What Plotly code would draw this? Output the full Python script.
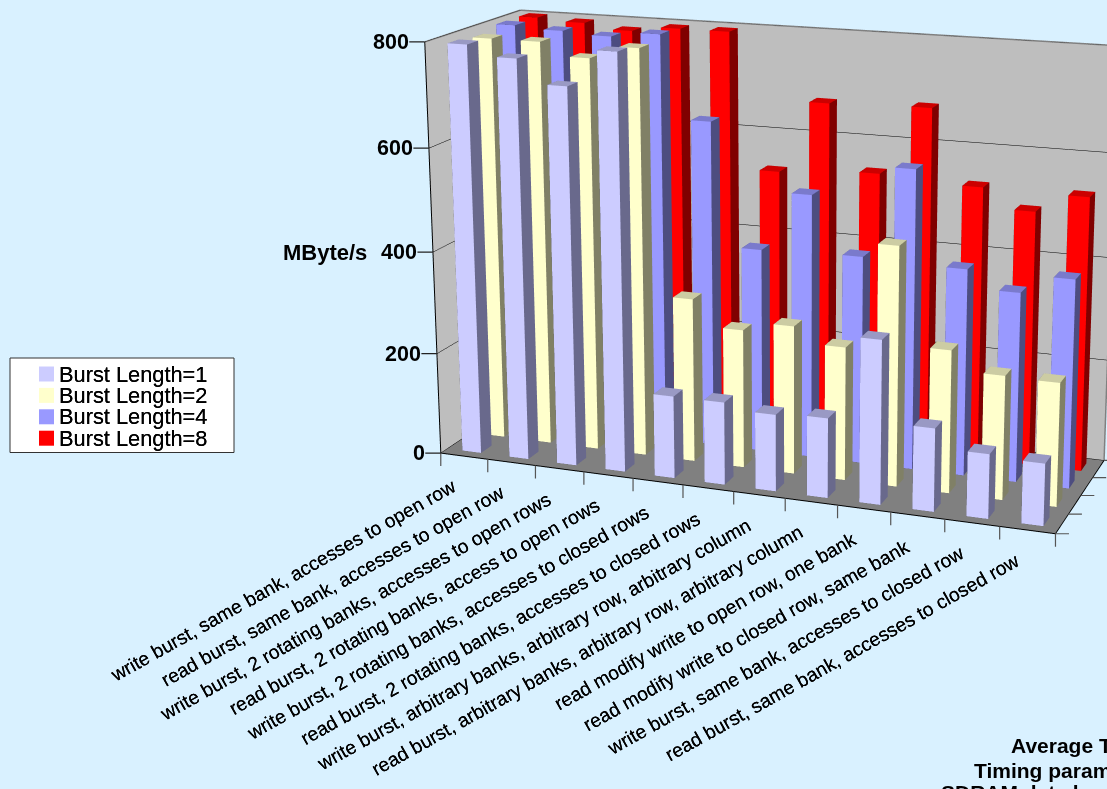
import plotly.graph_objects as go

categories = [
    "write burst, same bank, accesses to open row",
    "read burst, same bank, accesses to open row",
    "write burst, 2 rotating banks, accesses to open rows",
    "read burst, 2 rotating banks, access to open rows",
    "write burst, 2 rotating banks, accesses to closed rows",
    "read burst, 2 rotating banks, accesses to closed rows",
    "write burst, arbitrary banks, arbitrary row, arbitrary column",
    "read burst, arbitrary banks, arbitrary row, arbitrary column",
    "read modify write to open row, one bank",
    "read modify write to closed row, same bank",
    "write burst, same bank, accesses to closed row",
    "read burst, same bank, accesses to closed row",
]
burst_1 = [795, 775, 730, 800, 160, 160, 148, 153, 312, 158, 122, 117]
burst_2 = [790, 790, 765, 790, 320, 270, 288, 258, 460, 274, 237, 235]
burst_4 = [800, 795, 790, 800, 640, 400, 515, 405, 580, 400, 365, 400]
burst_8 = [800, 795, 785, 795, 795, 530, 670, 542, 675, 532, 494, 530]
series_names = ["Burst Length=1", "Burst Length=2", "Burst Length=4", "Burst Length=8"]
series_values = [burst_1, burst_2, burst_4, burst_8]
z_ticks = [0, 200, 400, 600, 800]
front_colors = ["#CCCCFF", "#FFFFCC", "#9999FF", "#FF0000"]
top_colors = ["#9999C4", "#CCCCA3", "#7A7ACC", "#CC0000"]
side_colors = ["#69698C", "#808066", "#4D4D80", "#800000"]

FONT = "Liberation Sans"
SHADOW = "0 0 0.4px black"
BG = "#D9F1FF"
W, H, SHIFT, LEFT = 1582, 1913, 746, 1
BAR_W, BAR_D, BAR_C = 0.40, 0.45, 0.52
X_MAX, Y_MAX, Z_MAX = len(categories), len(series_names), z_ticks[-1]


def bars_mesh(values, row, name, front, top, side):
    xs, ys, zs, ii, jj, kk, fc = [], [], [], [], [], [], []
    quads = [
        ((0, 1, 5, 4), front), ((1, 2, 6, 5), side), ((4, 5, 6, 7), top),
        ((0, 3, 7, 4), side), ((3, 2, 6, 7), side), ((0, 1, 2, 3), side),
    ]
    for c, v in enumerate(values):
        b = len(xs)
        x0, x1 = c + BAR_C - BAR_W / 2, c + BAR_C + BAR_W / 2
        y0, y1 = row + 0.5 - BAR_D / 2, row + 0.5 + BAR_D / 2
        xs += [x0, x1, x1, x0, x0, x1, x1, x0]
        ys += [y0, y0, y1, y1, y0, y0, y1, y1]
        zs += [0, 0, 0, 0, v, v, v, v]
        for (p, q, r, s), col in quads:
            ii += [b + p, b + p]
            jj += [b + q, b + r]
            kk += [b + r, b + s]
            fc += [col, col]
    return go.Mesh3d(
        x=xs, y=ys, z=zs, i=ii, j=jj, k=kk, facecolor=fc, flatshading=True, name=name,
        lighting=dict(ambient=1, diffuse=0, specular=0, fresnel=0, roughness=1),
        hoverinfo="skip", showlegend=False,
    )


fig = go.Figure()
for r, vals in enumerate(series_values):
    fig.add_trace(bars_mesh(vals, r, series_names[r], front_colors[r], top_colors[r], side_colors[r]))

# grey outline along the top of the walls
fig.add_trace(go.Scatter3d(
    x=[0, 0, X_MAX, X_MAX], y=[0, Y_MAX, Y_MAX, Y_MAX], z=[Z_MAX, Z_MAX, Z_MAX, 0], mode="lines",
    line=dict(color="#808080", width=3), hoverinfo="skip", showlegend=False,
))


def tick(x, y, z, ax, ay, color):
    return dict(x=x, y=y, z=z, text=" ", font=dict(size=1), showarrow=True, arrowhead=0, arrowwidth=1.2,
                arrowcolor=color, ax=ax, ay=ay, standoff=0, startstandoff=0, borderpad=0)


scene_annotations = [
    dict(x=c + 0.5, y=0, z=0, text=t, showarrow=False, xanchor="right", yanchor="top",
         textangle=-29.3, xshift=-2, yshift=-17,
         font=dict(family=FONT, size=19.3, color="black", shadow=SHADOW))
    for c, t in enumerate(categories)
]
scene_annotations += [tick(c, 0, 0, 0, 14, "#555555") for c in range(X_MAX + 1)]
scene_annotations += [tick(X_MAX, r, 0, 14, 0, "#555555") for r in range(Y_MAX + 1)]
scene_annotations += [tick(0, 0, t, -16, 0, "#222222") for t in z_ticks]
scene_annotations += [
    dict(x=0, y=0, z=t, text=f"<b>{t}</b>", showarrow=False, xanchor="right", yanchor="middle", xshift=-14,
         font=dict(family=FONT, size=21.5, color="black"))
    for t in z_ticks
]

scene = dict(
    domain=dict(x=[0, 1], y=[0, 1]),
    aspectmode="manual",
    aspectratio=dict(x=0.6206, y=0.202, z=0.411),
    camera=dict(
        projection=dict(type="perspective"),
        up=dict(x=0, y=0, z=1),
        eye=dict(x=0.7476, y=-2.0098, z=0.579),
        center=dict(x=0.0072, y=0.041, z=0.035),
    ),
    xaxis=dict(range=[0, X_MAX], tickvals=list(range(X_MAX + 1)), showticklabels=False, ticks="", showgrid=False,
               zeroline=False, showline=True, linecolor="black", linewidth=2, showbackground=True,
               backgroundcolor="#BEBEBE", title=dict(text=""), showspikes=False),
    yaxis=dict(range=[0, Y_MAX], tickvals=list(range(Y_MAX + 1)), showticklabels=False, ticks="", showgrid=False,
               zeroline=False, showline=True, linecolor="black", linewidth=2, showbackground=True,
               backgroundcolor="#BEBEBE", title=dict(text=""), showspikes=False),
    zaxis=dict(range=[0, Z_MAX], tickvals=z_ticks, ticks="", showticklabels=False, showgrid=True, gridcolor="black",
               gridwidth=1, zeroline=False, showline=True, linecolor="black", linewidth=2, showbackground=True,
               backgroundcolor="#808080", title=dict(text=""), showspikes=False),
    annotations=scene_annotations,
)


def px(x):
    return (x - LEFT) / W


def py(y):
    return 1 - (y + SHIFT) / H


shapes = [dict(type="rect", xref="paper", yref="paper", x0=px(10), x1=px(234), y0=py(358), y1=py(452.5),
               fillcolor="white", line=dict(color="#333333", width=1))]
annots = []
for r, name in enumerate(series_names):
    cy = 374 + r * 21.4
    shapes.append(dict(type="rect", xref="paper", yref="paper", x0=px(39), x1=px(54), y0=py(cy - 7.5), y1=py(cy + 7.5),
                       fillcolor=front_colors[r], line=dict(width=0)))
    annots.append(dict(text=name, x=px(57), y=py(cy), xref="paper", yref="paper", xanchor="left", yanchor="middle",
                       showarrow=False, font=dict(family=FONT, size=21.8, color="black", shadow=SHADOW)))
for text, x, y, anchor, size in [("MByte/s", 369, 252, "right", 22), ("Average T", 1009, 745, "left", 21),
                                 ("Timing param", 972, 770, "left", 21), ("SDRAM data b", 939, 792, "left", 21)]:
    annots.append(dict(text=f"<b>{text}</b>", x=px(x), y=py(y), xref="paper", yref="paper", xanchor=anchor,
                       yanchor="middle", showarrow=False, font=dict(family=FONT, size=size, color="black")))

fig.update_layout(
    width=W, height=H, autosize=False,
    margin=dict(l=0, r=0, t=0, b=0),
    paper_bgcolor=BG,
    scene=scene,
    showlegend=False,
    shapes=shapes,
    annotations=annots,
)

post = f"""
var gd = document.getElementById('{{plot_id}}');
document.documentElement.style.overflow = 'hidden';
document.body.style.overflow = 'hidden';
document.body.style.margin = '0';
document.body.style.background = '{BG}';
gd.style.position = 'absolute';
gd.style.left = '{LEFT}px';
gd.style.top = '-{SHIFT}px';
"""
fig.write_html("out.html", post_script=post)
